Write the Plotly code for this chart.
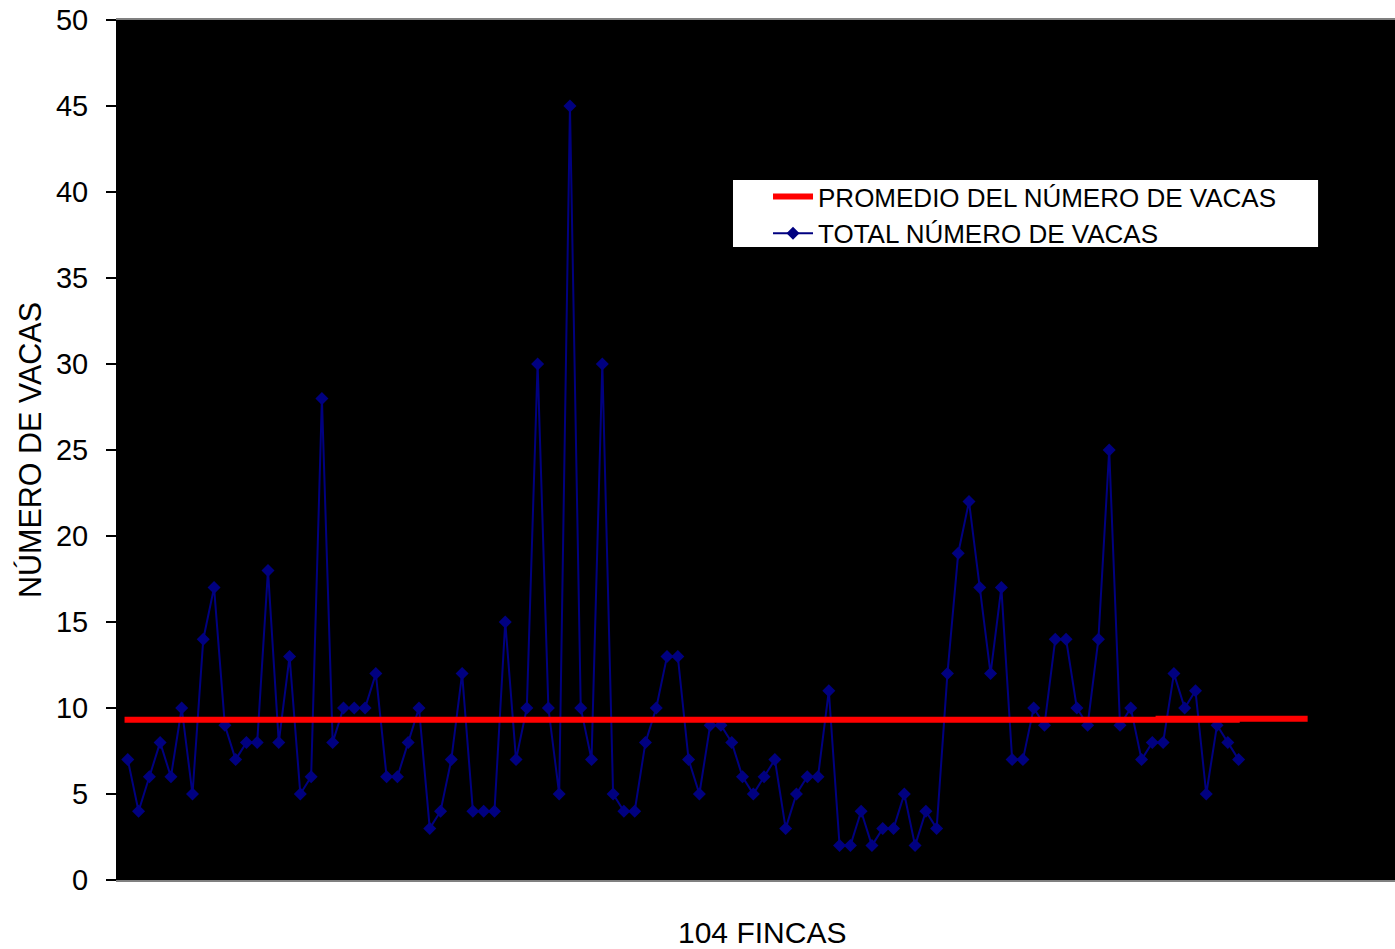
import plotly.graph_objects as go

# Data
fincas = list(range(1, 105))
total_vacas = [
    7, 4, 6, 8, 6, 10, 5, 14, 17, 9,
    7, 8, 8, 18, 8, 13, 5, 6, 28, 8,
    10, 10, 10, 12, 6, 6, 8, 10, 3, 4,
    7, 12, 4, 4, 4, 15, 7, 10, 30, 10,
    5, 45, 10, 7, 30, 5, 4, 4, 8, 10,
    13, 13, 7, 5, 9, 9, 8, 6, 5, 6,
    7, 3, 5, 6, 6, 11, 2, 2, 4, 2,
    3, 3, 5, 2, 4, 3, 12, 19, 22, 17,
    12, 17, 7, 7, 10, 9, 14, 14, 10, 9,
    14, 25, 9, 10, 7, 8, 8, 12, 10, 11,
    5, 9, 8, 7,
]
promedio_x = [0.7, 104.1]
promedio_y = [9.32, 9.32]
promedio2_x = [96.3, 110.4]
promedio2_y = [9.38, 9.38]
y_ticks = [0, 5, 10, 15, 20, 25, 30, 35, 40, 45, 50]

FONT = "Liberation Sans, Arial, sans-serif"

fig = go.Figure()
fig.add_trace(go.Scatter(
    x=fincas, y=total_vacas, mode="lines+markers",
    name="TOTAL NÚMERO DE VACAS",
    line=dict(color="#000080", width=2),
    marker=dict(symbol="diamond", size=10, color="#000080"),
    legendrank=2,
))
fig.add_trace(go.Scatter(
    x=promedio_x, y=promedio_y, mode="lines",
    name="PROMEDIO DEL NÚMERO DE VACAS",
    line=dict(color="#FF0000", width=6),
    legendrank=1,
))
fig.add_trace(go.Scatter(
    x=promedio2_x, y=promedio2_y, mode="lines",
    showlegend=False, hoverinfo="skip",
    line=dict(color="#FF0000", width=6),
))

fig.update_layout(
    width=1395, height=949,
    margin=dict(l=117, r=0, t=20, b=69),
    paper_bgcolor="white",
    plot_bgcolor="black",
    font=dict(family=FONT, color="black"),
    showlegend=True,
    legend=dict(
        x=0.5094, y=0.822, xanchor="left", yanchor="top",
        bgcolor="rgba(0,0,0,0)", borderwidth=0,
        font=dict(family=FONT, size=26, color="black"),
        itemwidth=40,
        tracegroupgap=0,
    ),
    shapes=[
        dict(type="rect", xref="paper", yref="paper",
             x0=0.482, x1=0.9398, y0=0.736, y1=0.814,
             fillcolor="white", line=dict(width=0), layer="above"),
    ],
    xaxis=dict(
        range=[0, 118.5], showgrid=False, zeroline=False,
        showticklabels=False, ticks="",
        showline=True, linecolor="#808080", linewidth=2, mirror=True,
    ),
    yaxis=dict(
        range=[0, 50], tickvals=y_ticks, showgrid=False, zeroline=False,
        showline=True, linecolor="black", linewidth=1,
        ticks="outside", ticklen=10, tickwidth=1.5, tickcolor="black",
        ticklabelstandoff=12,
        tickfont=dict(family=FONT, size=29, color="black"),
    ),
    annotations=[
        dict(text="104 FINCAS", xref="paper", yref="paper",
             x=0.505, y=0, yshift=-52, xanchor="center", yanchor="middle",
             showarrow=False, font=dict(family=FONT, size=30, color="black")),
        dict(text="NÚMERO DE VACAS", xref="paper", yref="paper",
             x=0, xshift=-87, y=0.5, textangle=-90,
             xanchor="center", yanchor="middle",
             showarrow=False, font=dict(family=FONT, size=30.5, color="black")),
    ],
)

fig.write_html("out.html")
